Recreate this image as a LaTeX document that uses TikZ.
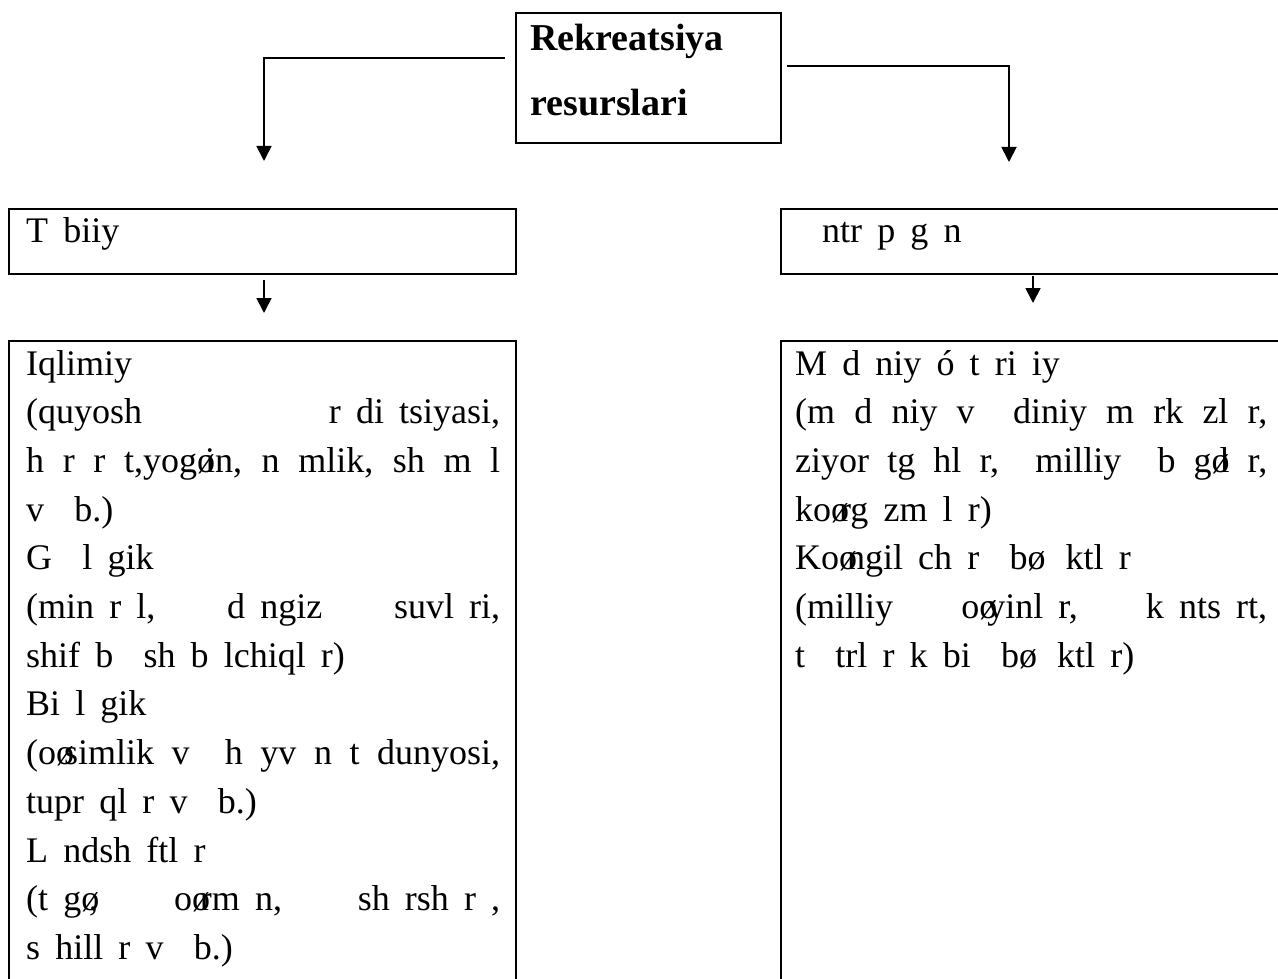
\documentclass[tikz,border=0pt]{standalone}
\usepackage{fontspec}
\setmainfont{Liberation Serif}
\usetikzlibrary{arrows.meta}
\newcommand\bodyfont{\fontsize{36}{48.7}\selectfont\spaceskip=0.42em plus 0.3em\relax}
\newcommand\titlefont{\fontsize{38}{44}\selectfont\bfseries}
\newcommand\myo{\makebox[0.22em][l]{ø}}
\begin{document}
\begin{tikzpicture}[x=1pt,y=-1pt,
  box/.style={draw,line width=2.6pt,rectangle,inner sep=0pt,outer sep=0pt},
  conn/.style={line width=1.8pt,-{Triangle[width=15pt,length=15pt]}},
  body/.style={anchor=base west,inner sep=0pt,font=\bodyfont},
  title/.style={anchor=base west,inner sep=0pt,font=\titlefont}]
\clip (0,0) rectangle (1278,979);
% boxes
\node[box,minimum width=265pt,minimum height=130pt] (top) at (648.5,78) {};
\node[box,minimum width=507pt,minimum height=65pt] (nat) at (262.5,241.5) {};
\node[box,minimum width=530pt,minimum height=65pt] (ant) at (1046,241.5) {};
\node[box,minimum width=507pt,minimum height=700pt] (natd) at (262.5,691) {};
\node[box,minimum width=530pt,minimum height=700pt] (antd) at (1046,691) {};
% titles
\node[title] (t1) at (530,51) {Rekreatsiya};
\node[title] (t2) at (530,116) {resurslari};
\node[body] (natt) at (26,243) {T biiy};
\node[body] (antt) at (822,243) {ntr p g n};
% connectors
\coordinate (ls) at (505,58);
\coordinate (lc) at (264,58);
\coordinate (le) at (264,161);
\draw[conn] (ls) -- (lc) -- (le);
\coordinate (rs) at (787,66);
\coordinate (rc) at (1009,66);
\coordinate (re) at (1009,162);
\draw[conn] (rs) -- (rc) -- (re);
\coordinate (la) at (264,280);
\coordinate (lb) at (264,313);
\draw[conn] (la) -- (lb);
\coordinate (ra) at (1033,276);
\coordinate (rb) at (1033,303);
\draw[conn] (ra) -- (rb);
% left detail text
\foreach \t [count=\i] in {
  {Iqlimiy},
  {\makebox[474pt][s]{(quyosh\hfill r di tsiyasi,}},
  {\makebox[474pt][s]{h r r t,yog\myo in, n mlik, sh m l}},
  {v~~b.)},
  {G~~l gik},
  {\makebox[474pt][s]{(min r l,\hfill d ngiz\hfill suvl ri,}},
  {shif b~~sh b lchiql r)},
  {Bi l gik},
  {\makebox[474pt][s]{(o\myo simlik v~~h yv n t dunyosi,}},
  {tupr ql r v~~b.)},
  {L ndsh ftl r},
  {\makebox[474pt][s]{(t g\myo,\hfill o\myo rm n,\hfill sh rsh r ,}},
  {s hill r v~~b.)}}
  \node[body] (nl\i) at (26,{375+48.7*(\i-1)}) {\t};
% right detail text
\foreach \t [count=\i] in {
  {M d niy ó t ri iy},
  {\makebox[472pt][s]{(m d niy v~~diniy m rk zl r,}},
  {\makebox[472pt][s]{ziyor tg hl r,~~milliy~~b g\myo l r,}},
  {ko\myo rg zm l r)},
  {Ko\myo ngil ch r~~b\myo~~ktl r},
  {\makebox[472pt][s]{(milliy\hfill o\myo yinl r,\hfill k nts rt,}},
  {t~~trl r k bi~~b\myo~~ktl r)}}
  \node[body] (nr\i) at (795,{375+48.7*(\i-1)}) {\t};
\end{tikzpicture}
\end{document}
